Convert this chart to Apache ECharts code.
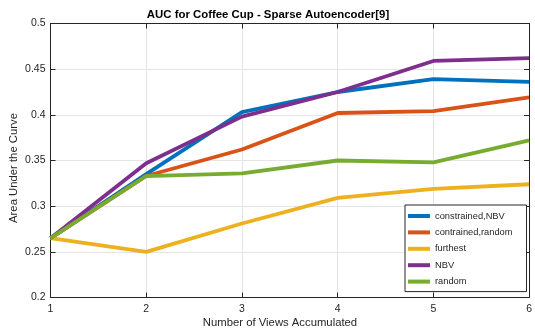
<!DOCTYPE html>
<html>
<head>
<meta charset="utf-8">
<script src="https://cdn.jsdelivr.net/npm/echarts@6/dist/echarts.min.js"></script>
<style>
  html, body { margin: 0; padding: 0; background: #fff; }
  #chart { width: 535px; height: 331px; }
</style>
</head>
<body>
<div id="chart"></div>
<script>
// Number of views accumulated (x axis)
const views = [1, 2, 3, 4, 5, 6];

// AUC per strategy
const constrainedNBV    = [0.265, 0.335, 0.403, 0.425, 0.439, 0.436];
const constrainedRandom = [0.265, 0.333, 0.362, 0.402, 0.404, 0.419];
const furthest          = [0.265, 0.250, 0.281, 0.309, 0.319, 0.324];
const nbv               = [0.265, 0.347, 0.398, 0.425, 0.459, 0.462];
const randomViews       = [0.265, 0.333, 0.336, 0.350, 0.348, 0.372];

const seriesNames = ['constrained,NBV', 'contrained,random', 'furthest', 'NBV', 'random'];
const seriesData = [constrainedNBV, constrainedRandom, furthest, nbv, randomViews];
const colors = ['#0072BD', '#D95319', '#EDB120', '#7E2F8E', '#77AC30'];

const yTicks = [0.2, 0.25, 0.3, 0.35, 0.4, 0.45, 0.5];

const FONT = '"Liberation Sans", Arial, Helvetica, sans-serif';
const INK = '#262626';

const chart = echarts.init(document.getElementById('chart'), null, { renderer: 'canvas' });

const axisCommon = {
  axisLine: { show: true, lineStyle: { color: INK, width: 1 } },
  axisTick: { show: true, inside: true, length: 5, lineStyle: { color: INK, width: 1 } },
  splitLine: { show: true, lineStyle: { color: '#e5e5e5', width: 1 } }
};

chart.setOption({
  animation: false,
  backgroundColor: '#ffffff',
  color: colors,
  grid: { left: 50.5, right: 1.5, top: 23.5, bottom: 33.5, containLabel: false },
  xAxis: [
    Object.assign({
      type: 'value', min: 1, max: 6, interval: 1, position: 'bottom',
      axisLabel: { color: INK, fontFamily: FONT, fontSize: 10.5, margin: 6 }
    }, axisCommon),
    Object.assign({}, axisCommon, {
      type: 'value', min: 1, max: 6, interval: 1, position: 'top',
      axisLabel: { show: false }, splitLine: { show: false }
    })
  ],
  yAxis: [
    Object.assign({
      type: 'value', min: yTicks[0], max: yTicks[yTicks.length - 1], interval: 0.05, position: 'left',
      axisLabel: {
        color: INK, fontFamily: FONT, fontSize: 10.5, margin: 5,
        formatter: v => String(parseFloat(v.toFixed(2)))
      }
    }, axisCommon),
    Object.assign({}, axisCommon, {
      type: 'value', min: yTicks[0], max: yTicks[yTicks.length - 1], interval: 0.05, position: 'right',
      axisLabel: { show: false }, splitLine: { show: false }
    })
  ],
  legend: {
    orient: 'vertical',
    left: 405, top: 205,
    data: seriesNames,
    icon: 'rect',
    itemWidth: 22, itemHeight: 4,
    itemGap: 4.4,
    itemTextGap: 3,
    padding: [5, 14, 4, 3],
    borderColor: INK, borderWidth: 1,
    backgroundColor: '#ffffff',
    textStyle: { color: INK, fontFamily: FONT, fontSize: 9.3, lineHeight: 12 }
  },
  graphic: [
    {
      type: 'text', x: 268, y: 14.5,
      style: {
        text: 'AUC for Coffee Cup - Sparse Autoencoder[9]',
        fontFamily: FONT, fontSize: 11.4, fontWeight: 'bold', fill: '#000',
        textAlign: 'center', textVerticalAlign: 'middle'
      }
    },
    {
      type: 'text', x: 280, y: 323,
      style: {
        text: 'Number of Views Accumulated',
        fontFamily: FONT, fontSize: 11.3, fill: INK,
        textAlign: 'center', textVerticalAlign: 'middle'
      }
    },
    {
      type: 'text', x: 13.7, y: 168, rotation: Math.PI / 2,
      style: {
        text: 'Area Under the Curve',
        fontFamily: FONT, fontSize: 11.3, fill: INK,
        textAlign: 'center', textVerticalAlign: 'middle'
      }
    }
  ],
  series: seriesNames.map((name, i) => ({
    name: name,
    type: 'line',
    xAxisIndex: 0, yAxisIndex: 0,
    data: views.map((v, j) => [v, seriesData[i][j]]),
    showSymbol: false,
    symbol: 'none',
    lineStyle: { width: 3.8, color: colors[i] },
    itemStyle: { color: colors[i] }
  }))
});
</script>
</body>
</html>
